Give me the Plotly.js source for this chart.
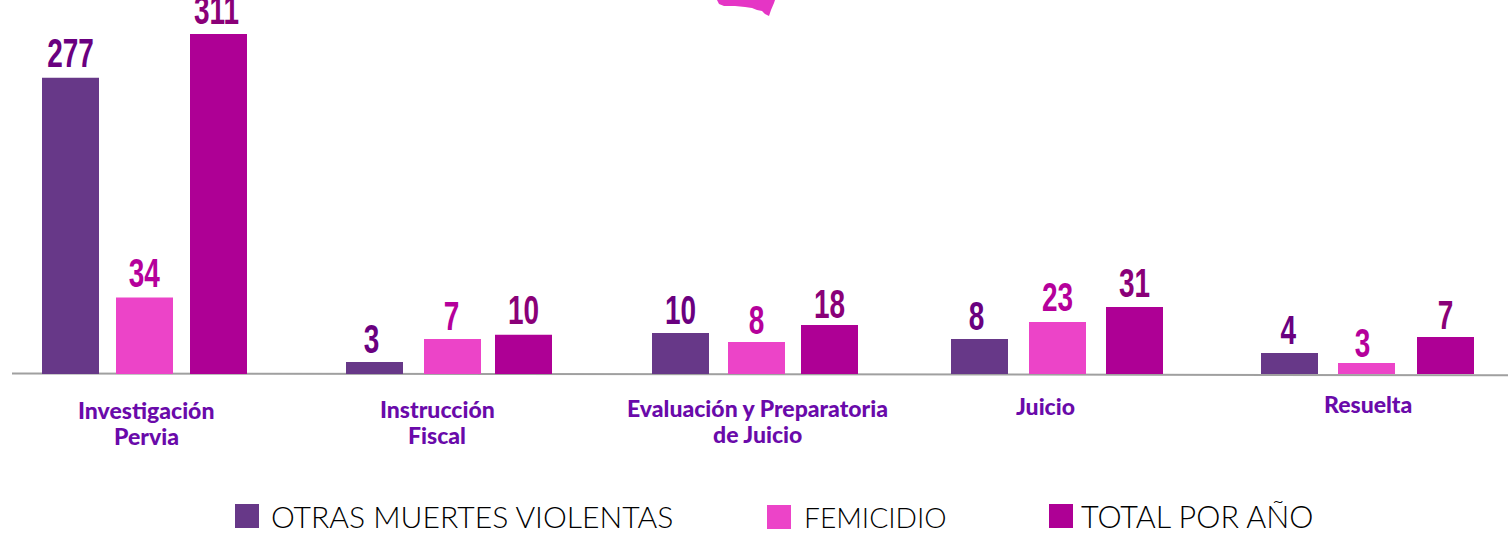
<!DOCTYPE html>
<html><head><meta charset="utf-8">
<script src="https://cdn.plot.ly/plotly-3.0.1.min.js"></script>
<style>html,body{margin:0;padding:0;background:#fff;overflow:hidden}#c{width:1508px;height:556px}</style>
</head><body><div id="c"></div>
<script>
// Data
const categoryLines = [["Investigación","Pervia"],["Instrucción","Fiscal"],["Evaluación y Preparatoria","de Juicio"],["Juicio"],["Resuelta"]];
const seriesNames = ["OTRAS MUERTES VIOLENTAS","FEMICIDIO","TOTAL POR AÑO"];
// Values printed on the chart
const otrasLabels = [277,3,10,8,4];
const femicidioLabels = [34,7,8,23,3];
const totalLabels = [311,10,18,31,7];
// Bar heights as drawn in the reference (it is not to scale), in axis units where 311 is the tallest bar
const otrasHeights = [271,11,37.5,32,19.2];
const femicidioHeights = [70,32,29.3,47.6,10];
const totalHeights = [311,36,44.8,61.3,33.8];

// Layout and style
const W=1508,H=556,baseY=374,pxPerUnit=340/311;
const catStart=145.5,catPitch=305.5;
const barW=57;
const barLeft=[[42,346,652,951,1261],[116,424,728,1029,1338],[190,495,801,1106,1417]];
const barColors=["#673888","#ec44c8","#ae0095"];
const labelColors=["#6a0080","#b5009b","#8a0078"];
const labelNudgeX=[[0,-3,0,-3,-1],[0,-1,0,0,-4],[-2,0,0,0,0]];
const labelNudgeY=[[0,2,2,2,2],[1,2,3,0,5],[1,0,4,1,3]];
const labelSqueeze=0.7;
const catPos=[[146,423],[437,421.5],[757.5,421],[1045,406],[1367.5,404]];
const catLineStep=26;
const legendSwatch=[[235,504],[767,505],[1049,504]];
const legendText=[269,802,1079];
const legendSize=[30.1,28.2,30.5];
const labelFont="'Liberation Sans',sans-serif";
const catFont="Lato,sans-serif";
const px=x=>x/W, py=y=>1-y/baseY;
const idx=categoryLines.map((_,i)=>i);
const heights=[otrasHeights,femicidioHeights,totalHeights];
const labels=[otrasLabels,femicidioLabels,totalLabels];

const traces=seriesNames.map((n,s)=>({
  type:'bar',name:n,x:idx,y:heights[s],
  width:barW/catPitch,
  offset:barLeft[s].map((l,i)=>(l-(catStart+catPitch*i))/catPitch),
  marker:{color:barColors[s],line:{width:0}},
  text:labels[s].map(String),textposition:'outside',textangle:0,cliponaxis:false,
  constraintext:'none',
  textfont:{family:labelFont,size:40,color:labelColors[s],weight:700},
  hoverinfo:'name+text'
}));

const annotations=[];
categoryLines.forEach((lines,i)=>lines.forEach((t,k)=>annotations.push({
  text:t,xref:'paper',yref:'paper',x:px(catPos[i][0]),
  y:py(catPos[i][1]+(k-(lines.length-1)/2)*catLineStep),
  xanchor:'center',yanchor:'middle',showarrow:false,
  font:{family:catFont,size:23,color:'#6a0aaa',weight:900}
})));
seriesNames.forEach((n,s)=>annotations.push({
  text:n,xref:'paper',yref:'paper',x:px(legendText[s]),y:py(legendSwatch[s][1]+12),
  xanchor:'left',yanchor:'middle',showarrow:false,
  font:{family:catFont,size:legendSize[s],color:'#000',weight:300}
}));

const blob=[[717,0],[719,4],[724,6],[735,6],[745,7],[752,8],[757,10],[762,11],[765,14],[769,16],[771,10],[774,3],[775,0]];
const shapes=[{type:'line',xref:'paper',yref:'paper',x0:px(12),x1:1,y0:py(373.4),y1:py(375.2),
   line:{color:'#a0a0a0',width:2},layer:'below'},
  {type:'path',xref:'paper',yref:'paper',
   path:'M'+blob.map(p=>px(p[0])+','+py(p[1])).join('L')+'Z',
   fillcolor:'#e535c5',line:{width:0}}
].concat(legendSwatch.map((p,s)=>({type:'rect',xref:'paper',yref:'paper',
   x0:px(p[0]),x1:px(p[0]+24),y0:py(p[1]),y1:py(p[1]+24),
   fillcolor:barColors[s],line:{width:0}})));

Plotly.newPlot('c',traces,{
  width:W,height:H,margin:{l:0,r:0,t:0,b:H-baseY,pad:0},
  paper_bgcolor:'#fff',plot_bgcolor:'#fff',showlegend:false,barmode:'group',
  xaxis:{range:[(0-catStart)/catPitch,(W-catStart)/catPitch],showgrid:false,zeroline:false,showline:false,showticklabels:false,ticks:'',fixedrange:true},
  yaxis:{range:[0,baseY/pxPerUnit],showgrid:false,zeroline:false,showline:false,showticklabels:false,ticks:'',fixedrange:true},
  shapes,annotations,
  font:{family:catFont}
},{displayModeBar:false,staticPlot:true}).then(gd=>{
  // The reference's value labels use a condensed face: narrow the real text in place
  gd.querySelectorAll('.barlayer .trace.bars').forEach((tr,s)=>{
    tr.querySelectorAll('.point').forEach((pt,i)=>{
      const t=pt.querySelector('text'); if(!t) return;
      const b=t.getBBox(), cx=b.x+b.width/2;
      const prev=t.getAttribute('transform')||'';
      t.setAttribute('transform',prev+' translate('+(cx+labelNudgeX[s][i])+','+labelNudgeY[s][i]+') scale('+labelSqueeze+',1) translate('+(-cx)+',0)');
    });
  });
});
</script></body></html>
